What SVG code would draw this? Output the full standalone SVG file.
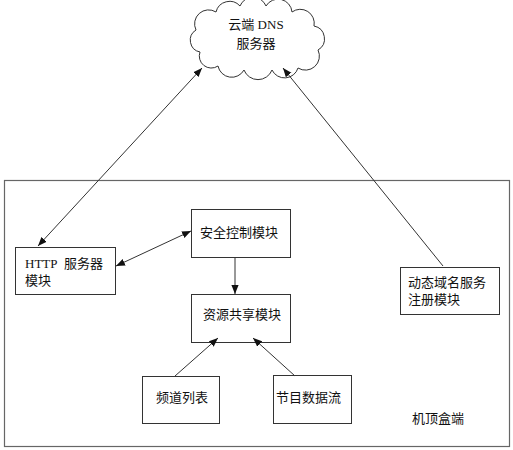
<svg xmlns="http://www.w3.org/2000/svg" width="513" height="450" viewBox="0 0 513 450">
<style>
.box{fill:#fff;stroke:#333;stroke-width:1}
.t{font-family:"Liberation Serif","Noto Sans CJK SC",serif;font-size:13px;fill:#111}
.ln{stroke:#333;stroke-width:1;fill:none}
</style>
<defs>
<marker id="ah" viewBox="0 0 10 10" refX="10" refY="5" markerWidth="9" markerHeight="9" markerUnits="userSpaceOnUse" orient="auto-start-reverse">
<path d="M0,1 L10,5 L0,9 Z" fill="#111"/>
</marker>
</defs>
<rect width="513" height="450" fill="#fff"/>
<g id="settop">
<rect x="4.5" y="180.5" width="505" height="266" fill="none" stroke="#666" stroke-width="1.2"/>
<text class="t" x="412" y="423">机顶盒端</text>
</g>
<g id="cloud">
<path class="box" d="M200,52 a12,12 0 0 1 -4,-22 a14,14 0 0 1 20,-18 a14,14 0 0 1 24,-6 a14,14 0 0 1 26,0 a14,14 0 0 1 26,6 a14,14 0 0 1 22,14 a13,13 0 0 1 4,24 a14,14 0 0 1 -20,18 a14,14 0 0 1 -26,2 a15,15 0 0 1 -28,0 a14,14 0 0 1 -26,-4 a12,12 0 0 1 -18,-14 Z"/>
<text class="t" x="256" y="29" text-anchor="middle">云端 DNS</text>
<text class="t" x="256" y="48" text-anchor="middle">服务器</text>
</g>
<g id="http">
<rect class="box" x="15.5" y="247.5" width="100" height="47"/>
<text class="t" x="25" y="268">HTTP<tspan x="64">服务器</tspan></text>
<text class="t" x="25" y="285">模块</text>
</g>
<g id="security">
<rect class="box" x="191.5" y="209.5" width="99" height="48"/>
<text class="t" x="200" y="237">安全控制模块</text>
</g>
<g id="share">
<rect class="box" x="191.5" y="294.5" width="99" height="48"/>
<text class="t" x="203" y="319">资源共享模块</text>
</g>
<g id="channel">
<rect class="box" x="142.5" y="376.5" width="77" height="47"/>
<text class="t" x="156" y="402">频道列表</text>
</g>
<g id="stream">
<rect class="box" x="273.5" y="375.5" width="78" height="48"/>
<text class="t" x="276" y="402">节目数据流</text>
</g>
<g id="ddns">
<rect class="box" x="400.5" y="267.5" width="99" height="47"/>
<text class="t" x="408" y="287">动态域名服务</text>
<text class="t" x="408" y="304">注册模块</text>
</g>
<g id="connectors">
<line class="ln" x1="202" y1="68" x2="38" y2="246" marker-start="url(#ah)" marker-end="url(#ah)"/>
<line class="ln" x1="443" y1="266" x2="283" y2="68" marker-end="url(#ah)"/>
<line class="ln" x1="116" y1="266" x2="191" y2="231" marker-start="url(#ah)" marker-end="url(#ah)"/>
<line class="ln" x1="235" y1="258" x2="235" y2="294" marker-end="url(#ah)"/>
<line class="ln" x1="175" y1="376" x2="218" y2="338" marker-end="url(#ah)"/>
<line class="ln" x1="295" y1="376" x2="253" y2="338" marker-end="url(#ah)"/>
</g>
</svg>
